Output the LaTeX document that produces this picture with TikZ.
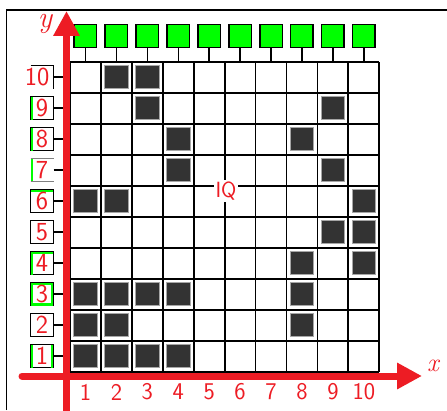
\documentclass[tikz,border=0pt]{standalone}
\usetikzlibrary{arrows.meta}
\definecolor{axred}{HTML}{ED1C24}
\definecolor{lime}{HTML}{00FF00}
\definecolor{darkcell}{HTML}{333333}
\begin{document}
\begin{tikzpicture}[x=1pt,y=1pt,
  gridline/.style={line width=1.8pt,black},
  conn/.style={line width=1.5pt,black},
  topbox/.style={draw=black,line width=1.5pt,fill=lime,minimum width=22.5pt,minimum height=23pt,inner sep=0pt},
  lbox/.style={minimum width=22.6pt,minimum height=23pt,inner sep=0pt,text=axred,font=\sffamily\fontsize{26}{26}\selectfont},
  lboxd/.style={lbox,draw=black,line width=1.5pt,fill=white},
  darksq/.style={fill=darkcell,draw=gray!70,line width=1pt,minimum width=23.5pt,minimum height=23.5pt,inner sep=0pt},
  axis/.style={axred,line width=7pt,line cap=round,-{Triangle[length=25pt,width=25pt]}},
  numlab/.style={text=axred,font=\sffamily\fontsize{24}{24}\selectfont},
  stripe/.style={fill=lime,draw=none}]
\useasboundingbox (0,0) rectangle (447,410);
% frame
\draw[line width=1.3pt] (6.5,0) -- (6.5,400) -- (447,400);
% grid
\foreach \i in {0,...,10} \draw[gridline] ({70+\i*30.93},38.3) -- ({70+\i*30.93},348.3);
\foreach \j in {0,...,10} \draw[gridline] (70,{38.3+\j*31}) -- (379.3,{38.3+\j*31});
% dark cells
\foreach \c/\r in {2/10,3/10,3/9,9/9,4/8,8/8,4/7,9/7,1/6,2/6,10/6,9/5,10/5,8/4,10/4,1/3,2/3,3/3,4/3,8/3,1/2,2/2,8/2,1/1,2/1,3/1,4/1}
  \node[darksq] (d\c-\r) at ({70+(\c-0.5)*30.93},{38.3+(\r-0.5)*31}) {};
% top boxes
\foreach \c in {1,...,10} {
  \node[topbox] (t\c) at ({70+(\c-0.5)*30.93},374.2) {};
  \coordinate (g\c) at ({70+(\c-0.5)*30.93},348.3);
  \draw[conn] (t\c.south) -- (g\c);
}
% left boxes
\foreach \r in {1,2,3,4,5,6,8,9} {
  \node[lboxd] (l\r) at (42,{38.3+(\r-0.5)*31}) {};
}
\foreach \r in {7,10} {
  \node[lbox] (l\r) at (42,{38.3+(\r-0.5)*31}) {};
}
% green stripes
\foreach \r in {1,3,4,8,9} \fill[stripe] ([xshift=0.8pt,yshift=0.8pt]l\r.south west) rectangle ([xshift=3.3pt,yshift=-0.8pt]l\r.north west);
\fill[stripe] ([xshift=0.5pt,yshift=0.5pt]l7.south west) rectangle ([xshift=2.8pt,yshift=-0.5pt]l7.north west);
\foreach \r in {3,1} \fill[stripe] ([xshift=-3.3pt,yshift=0.8pt]l\r.south east) rectangle ([xshift=-0.8pt,yshift=-0.8pt]l\r.north east);
\foreach \r in {3,4,6} \fill[stripe] ([xshift=0.8pt,yshift=-3.3pt]l\r.north west) rectangle ([xshift=-0.8pt,yshift=-0.8pt]l\r.north east);
\fill[stripe] ([xshift=0.8pt,yshift=0.8pt]l3.south west) rectangle ([xshift=-0.8pt,yshift=3.3pt]l3.south east);
% partial borders
\draw[line width=1.2pt,gray] (l7.north west) -- (l7.north east);
\draw[line width=1.2pt,gray] (l7.south west) -- (l7.south east);
\draw[line width=1.3pt] (l10.north west) -- (l10.north east) -- (l10.south east);
% left labels
\foreach \r in {1,...,9} \node[lbox] at (l\r) {\r};
\node[lbox] at ([xshift=-5pt]l10.center) {10};
% left connectors
\foreach \r in {1,...,10} {
  \coordinate (h\r) at (70,{38.3+(\r-0.5)*31});
  \draw[conn] (l\r.east) -- (h\r);
}
% IQ
\node[fill=white,text=axred,inner sep=1.5pt,font=\sffamily\fontsize{22}{22}\selectfont] (iq) at (226,219) {IQ};
% axes
\coordinate (yb) at (66.5,-5);
\coordinate (yt) at (66.5,399);
\coordinate (xl) at (22,34);
\coordinate (xr) at (422,34);
\draw[axis] (yb) -- (yt);
\draw[axis] (xl) -- (xr);
\node[text=axred,font=\itshape\fontsize{30}{30}\selectfont] (ylab) at (45,386) {y};
\node[text=axred,font=\itshape\fontsize{26}{26}\selectfont] (xlab) at (433,44) {x};
% bottom numbers
\foreach \c in {1,...,10} \node[numlab] (n\c) at ({70+(\c-0.5)*30.93},18) {\c};
\end{tikzpicture}
\end{document}
